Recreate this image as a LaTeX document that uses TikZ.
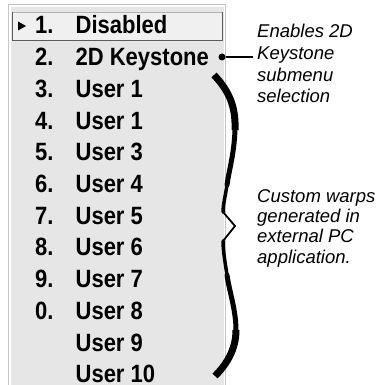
\documentclass[tikz,border=0pt]{standalone}
\usepackage{fontspec}
\setmainfont{Liberation Sans}
\newfontfamily\menufont[FakeStretch=0.88]{Liberation Sans}
\usepackage{tikz}
\usetikzlibrary {positioning}
\definecolor{panelgray}{HTML}{E6E6E6}
\definecolor{framegray}{HTML}{C4C4C4}
\definecolor{selgray}{HTML}{5C5C5C}
\tikzset{
         menunum/.style={inner sep=0pt, text height=18pt, text depth=4pt, font=\menufont\fontsize{25}{28}\selectfont\bfseries},
         menulabel/.style={menunum},
         note/.style={inner sep=0pt, align=left, font=\fontsize{18.5}{#1}\selectfont\itshape},
         dotnode/.style={circle, fill=black, inner sep=0pt, minimum size=7pt},
         leader/.style={line width=0.4mm, shorten >=4pt},
         bracearm/.style={line width=#1, line cap=round},
}

\begin{document}
\begin{tikzpicture}[x=1pt, y=-1pt]
    \useasboundingbox (0,0) rectangle (380,385);

    % Menue
    \draw[framegray, fill=white] (8,4) rectangle (225,390);
    \fill[panelgray] (11,7) rectangle (224,390);
    \fill[panelgray!60!white] (12,12) rectangle (222,40);
    \draw[gray!60, line width=0.6pt] (12,12) -- (222,12);
    \draw[selgray, line width=0.8pt] (12,12) -- (12,40) -- (222,40) -- (222,12);
    \fill (18,21.5) -- (26,26) -- (18,30.5) -- cycle;

    \node[menunum, anchor=base west] (n1) at (35,34) {1.};
    \node[menulabel, right=21.7pt of n1] (l1) {Disabled};
    \node[menunum, below=9.3pt of n1] (n2) {2.};
    \node[menulabel, right=21.7pt of n2] (l2) {2D Keystone};
    \node[menunum, below=9.3pt of n2] (n3) {3.};
    \node[menulabel, right=21.7pt of n3] (l3) {User 1};
    \node[menunum, below=9.3pt of n3] (n4) {4.};
    \node[menulabel, right=21.7pt of n4] (l4) {User 1};
    \node[menunum, below=9.3pt of n4] (n5) {5.};
    \node[menulabel, right=21.7pt of n5] (l5) {User 3};
    \node[menunum, below=9.3pt of n5] (n6) {6.};
    \node[menulabel, right=21.7pt of n6] (l6) {User 4};
    \node[menunum, below=9.3pt of n6] (n7) {7.};
    \node[menulabel, right=21.7pt of n7] (l7) {User 5};
    \node[menunum, below=9.3pt of n7] (n8) {8.};
    \node[menulabel, right=21.7pt of n8] (l8) {User 6};
    \node[menunum, below=9.3pt of n8] (n9) {9.};
    \node[menulabel, right=21.7pt of n9] (l9) {User 7};
    \node[menunum, below=9.3pt of n9] (n0) {0.};
    \node[menulabel, right=21.7pt of n0] (l0) {User 8};
    \node[menulabel, below=9.3pt of l0.south west, anchor=north west] (l11) {User 9};
    \node[menulabel, below=9.3pt of l11.south west, anchor=north west] (l12) {User 10};

    % Hinweise
    \node[note=21.7, anchor=north west] (ksnote) at (257,24) {Enables 2D\\Keystone\\submenu\\selection};
    \node[note=20.3, anchor=north west] (warpnote) at (257,189) {Custom warps\\generated in\\external PC\\application.};
    \node[dotnode] (ksdot) at (222,57) {};
    \draw[leader] (ksdot) -- (ksdot -| ksnote.west);

    % Klammer
    \draw[line width=7pt] (214,75) .. controls (228,90) and (236,105) .. (235,130);
    \draw[bracearm=5pt] (235,130) .. controls (234,155) and (229,170) .. (227,185);
    \draw[bracearm=3.5pt] (227,185) .. controls (225,198) and (223,205) .. (223,212);
    \draw[bracearm=1.8pt, line join=miter] (223,212) -- (235,226) -- (223,241);
    \draw[bracearm=3.5pt] (223,241) .. controls (223,250) and (225,262) .. (227,275);
    \draw[bracearm=5pt] (227,275) .. controls (229,290) and (236,310) .. (236,330);
    \draw[line width=7pt] (236,330) .. controls (236,350) and (226,365) .. (215,376);
\end{tikzpicture}
\end{document}
